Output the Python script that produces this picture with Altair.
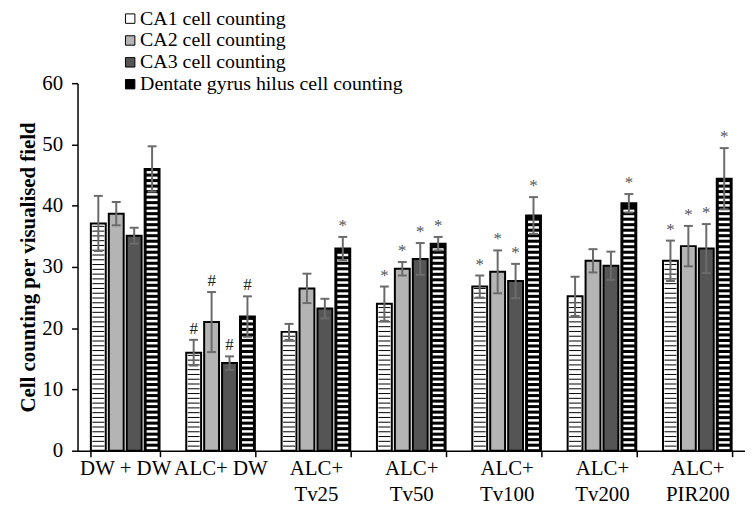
import altair as alt
import pandas as pd

groups = ["DW + DW", "ALC+ DW", "ALC+|Tv25", "ALC+|Tv50", "ALC+|Tv100", "ALC+|Tv200", "ALC+|PIR200"]
series = ["CA1 cell counting", "CA2 cell counting", "CA3 cell counting",
          "Dentate gyrus hilus cell counting"]

ca1 = [37.1, 16.0, 19.4, 24.0, 26.8, 25.2, 31.0]
ca1_err = [4.5, 2.1, 1.3, 2.8, 1.8, 3.2, 3.3]
ca2 = [38.7, 21.0, 26.5, 29.7, 29.2, 31.0, 33.4]
ca2_err = [1.9, 4.9, 2.4, 1.1, 3.5, 1.9, 3.3]
ca3 = [35.1, 14.3, 23.2, 31.3, 27.7, 30.2, 33.0]
ca3_err = [1.3, 1.1, 1.6, 2.6, 2.8, 2.3, 4.0]
dg = [46.0, 21.9, 33.0, 33.8, 38.4, 40.4, 44.4]
dg_err = [3.7, 3.3, 1.9, 1.1, 3.0, 1.5, 5.0]

ca1_mark = ["", "#", "", "*", "*", "", "*"]
ca2_mark = ["", "#", "", "*", "*", "", "*"]
ca3_mark = ["", "#", "", "*", "*", "", "*"]
dg_mark = ["", "#", "*", "*", "*", "*", "*"]

fills = ["#ffffff", "#b4b4b4", "#555555", "#000000"]

vals = [ca1, ca2, ca3, dg]
errs = [ca1_err, ca2_err, ca3_err, dg_err]
marks = [ca1_mark, ca2_mark, ca3_mark, dg_mark]

rows = []
for si, s in enumerate(series):
    for gi, g in enumerate(groups):
        v, e = vals[si][gi], errs[si][gi]
        rows.append(dict(group=g, series=s, value=v, lo=v - e, hi=v + e, mark=marks[si][gi]))
df = pd.DataFrame(rows)

# decorative hatching derived from bar heights
stripes = []
for gi, g in enumerate(groups):
    y = 0.45
    while y < dg[gi] - 0.5:
        stripes.append(dict(group=g, series=series[3], y=y))
        y += 0.9
bricks = []
for gi, g in enumerate(groups):
    y = 0.75
    while y < ca1[gi] - 0.3:
        bricks.append(dict(group=g, series=series[0], y=y))
        y += 0.78
stripes_df = pd.DataFrame(stripes)
bricks_df = pd.DataFrame(bricks)

FONT = "Liberation Serif"
FS = 21

x_enc = alt.X("group:N", sort=groups,
              scale=alt.Scale(paddingInner=0.28, paddingOuter=0.14),
              axis=alt.Axis(title=None, labelExpr="split(datum.label, '|')",
                            labelAngle=0, labelFont=FONT, labelFontSize=FS,
                            labelColor="black", labelLineHeight=26,
                            labelPadding=1, tickBand="extent", tickSize=6,
                            tickColor="black", domainColor="black",
                            domainWidth=1.5, tickWidth=1.5))
xo_enc = alt.XOffset("series:N", sort=series,
                     scale=alt.Scale(paddingInner=0.17, paddingOuter=0))
y_scale = alt.Scale(domain=[0, 60], nice=False)

bars = alt.Chart(df).mark_bar(stroke="black", strokeWidth=2).encode(
    x=x_enc, xOffset=xo_enc,
    y=alt.Y("value:Q", scale=y_scale,
            axis=alt.Axis(title="Cell counting per visualised field",
                          values=[0, 10, 20, 30, 40, 50, 60], grid=False,
                          labelFont=FONT, labelFontSize=FS, labelColor="black",
                          labelPadding=9, tickSize=6, tickColor="black",
                          tickWidth=1.5, domainColor="black", domainWidth=1.5,
                          titleFont=FONT, titleFontSize=FS, titleFontWeight="bold",
                          titleColor="black", titlePadding=3)),
    fill=alt.Fill("series:N", scale=alt.Scale(domain=series, range=fills),
                  legend=alt.Legend(orient="none", legendX=43, legendY=-75, title=None,
                                    labelFont=FONT, labelFontSize=20, labelColor="black",
                                    symbolType="square", symbolSize=90, padding=0,
                                    symbolStrokeColor="black", symbolStrokeWidth=1,
                                    rowPadding=2, labelOffset=0, labelLimit=500)),
)

stripe_layer = alt.Chart(stripes_df).mark_tick(color="white", thickness=2.5, size=11,
                                               opacity=1).encode(
    x=alt.X("group:N", sort=groups), xOffset=alt.XOffset("series:N", sort=series),
    y=alt.Y("y:Q", scale=y_scale))

brick_layer = alt.Chart(bricks_df).mark_tick(color="black", thickness=1, size=12,
                                             opacity=1).encode(
    x=alt.X("group:N", sort=groups), xOffset=alt.XOffset("series:N", sort=series),
    y=alt.Y("y:Q", scale=y_scale))

err_color = "#6b6b6b"
err_rule = alt.Chart(df).mark_rule(color=err_color, strokeWidth=2).encode(
    x=alt.X("group:N", sort=groups), xOffset=alt.XOffset("series:N", sort=series),
    y=alt.Y("lo:Q", scale=y_scale), y2="hi:Q")
cap_hi = alt.Chart(df).mark_tick(color=err_color, thickness=2, size=9, opacity=1).encode(
    x=alt.X("group:N", sort=groups), xOffset=alt.XOffset("series:N", sort=series),
    y=alt.Y("hi:Q", scale=y_scale))
cap_lo = alt.Chart(df).mark_tick(color=err_color, thickness=2, size=9, opacity=1).encode(
    x=alt.X("group:N", sort=groups), xOffset=alt.XOffset("series:N", sort=series),
    y=alt.Y("lo:Q", scale=y_scale))

labels = alt.Chart(df).transform_filter("datum.mark != ''").mark_text(
    font=FONT, fontSize=17, dy=-11, baseline="middle").encode(
    x=alt.X("group:N", sort=groups), xOffset=alt.XOffset("series:N", sort=series),
    y=alt.Y("hi:Q", scale=y_scale), text="mark:N",
    color=alt.condition("datum.mark == '#'", alt.value("#222222"), alt.value("#555555")))

chart = alt.layer(bars, stripe_layer, brick_layer, err_rule, cap_hi, cap_lo, labels).properties(
    width=672, height=370,
    padding={"left": 70, "top": 74, "right": 0, "bottom": 58},
    autosize=alt.AutoSizeParams(type="none"),
    background="white",
).configure_view(stroke=None)

chart.save("out.html", embed_options={"renderer": "svg", "actions": False})
